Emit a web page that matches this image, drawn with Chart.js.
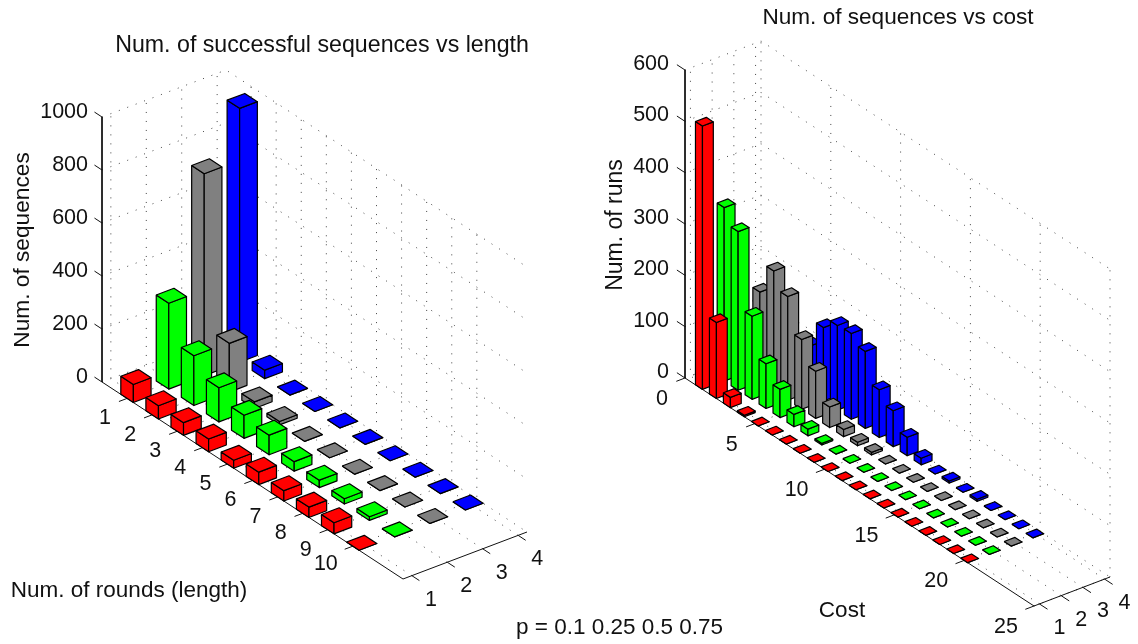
<!DOCTYPE html>
<html>
<head>
<meta charset="utf-8">
<title>Sequences</title>
<script src="https://cdn.jsdelivr.net/npm/chart.js@4"></script>
<style>
    html, body { margin: 0; padding: 0; background: #fff; }
    body { width: 1138px; height: 644px; position: relative; overflow: hidden; }
    canvas { position: absolute; top: 0; }
    #left-chart { left: 0; }
    #right-chart { left: 569px; }
    #note { position: absolute; left: 516px; top: 614px; font: 22.5px "Liberation Sans", Arial, sans-serif; white-space: nowrap; color: #111; }
</style>
</head>
<body>
<canvas id="left-chart" width="569" height="644"></canvas>
<canvas id="right-chart" width="569" height="644"></canvas>
<div id="note">p = 0.1 0.25 0.5 0.75</div>
<script>
// values
const seriesTicks = [1, 2, 3, 4];

const lengthCategories = [1, 2, 3, 4, 5, 6, 7, 8, 9, 10];
const lengthTicksZ = [0, 200, 400, 600, 800, 1000];
const lengthRed = [68, 50, 48, 48, 30, 47, 39, 39, 42, 0];
const lengthGreen = [324, 188, 129, 87, 74, 36, 28, 20, 14, 0];
const lengthGray = [762, 184, 25, 13, 0, 0, 0, 0, 0, 0];
const lengthBlue = [958, 32, 0, 0, 0, 0, 0, 0, 0, 0];

const costCategories = [1, 2, 3, 4, 5, 6, 7, 8, 9, 10, 11, 12, 13, 14, 15, 16, 17, 18, 19, 20];
const costTicksX = [0, 5, 10, 15, 20, 25];
const costTicksZ = [0, 100, 200, 300, 400, 500, 600];
const costRed = [513, 148, 20, 3, 0, 0, 0, 0, 0, 0, 0, 0, 0, 0, 0, 0, 0, 0, 0, 0];
const costGreen = [338, 309, 162, 87, 55, 24, 13, 3, 0, 0, 0, 0, 0, 0, 0, 0, 0, 0, 0, 0];
const costGray = [40, 175, 234, 202, 136, 92, 40, 14, 7, 5, 0, 0, 0, 0, 0, 0, 0, 0, 0, 0];
const costBlue = [0, 0, 20, 89, 143, 165, 167, 150, 93, 70, 36, 13, 0, 4, 0, 4, 0, 0, 0, 0];

const barColors = ['#ff0000', '#00ff00', '#808080', '#0000ff'];
const FONT = '"Liberation Sans", Arial, sans-serif';

function makePanel(cfg) {
    // oblique projection of (category, series, value) onto the page
    const cSpan = cfg.cMax - cfg.cMin;
    const sSpan = cfg.sMax - cfg.sMin;
    const dc = { x: (cfg.front.x - cfg.origin.x) / cSpan, y: (cfg.front.y - cfg.origin.y) / cSpan };
    const ds = { x: (cfg.right.x - cfg.front.x) / sSpan, y: (cfg.right.y - cfg.front.y) / sSpan };
    const dz = (cfg.origin.y - cfg.top) / cfg.zMax;
    cfg.project = (c, s, v) => ({
        x: cfg.origin.x + (c - cfg.cMin) * dc.x + (s - cfg.sMin) * ds.x,
        y: cfg.origin.y + (c - cfg.cMin) * dc.y + (s - cfg.sMin) * ds.y - v * dz
    });
    return cfg;
}

function lineSet(points, color, width, dash) {
    return {
        data: points, showLine: true, fill: false, tension: 0, pointRadius: 0,
        borderColor: color, borderWidth: width, borderDash: dash || []
    };
}

function faceSet(points, color) {
    return {
        data: points.concat([points[0]]), showLine: true, tension: 0, pointRadius: 0,
        fill: 'shape', backgroundColor: color, borderColor: '#000', borderWidth: 1.2,
        borderJoinStyle: 'round'
    };
}

function gridSets(p) {
    const sets = [];
    const P = p.project;
    const dash = [1, 8];
    const grey = '#444';
    p.zTicks.forEach(z => {
        sets.push(lineSet([P(p.cMin, p.sMin, z), P(p.cMin, p.sMax, z), P(p.cMax, p.sMax, z)], grey, 1, dash));
    });
    p.sTicks.forEach(s => {
        sets.push(lineSet([P(p.cMax, s, 0), P(p.cMin, s, 0), P(p.cMin, s, p.zMax)], grey, 1, dash));
    });
    p.cTicks.forEach(c => {
        sets.push(lineSet([P(c, p.sMin, 0), P(c, p.sMax, 0), P(c, p.sMax, p.zMax)], grey, 1, dash));
    });
    return sets;
}

function axisSets(p) {
    const sets = [];
    const P = p.project;
    const black = '#111';
    sets.push(lineSet([P(p.cMin, p.sMin, p.zMax), P(p.cMin, p.sMin, 0), P(p.cMax, p.sMin, 0), P(p.cMax, p.sMax, 0)], black, 1));
    p.zTicks.forEach(z => {
        sets.push(lineSet([P(p.cMin, p.sMin, z), P(p.cMin - p.tickC, p.sMin, z)], black, 1));
    });
    p.cTicks.forEach(c => {
        sets.push(lineSet([P(c, p.sMin, 0), P(c, p.sMin - p.tickS, 0)], black, 1));
    });
    p.sTicks.forEach(s => {
        sets.push(lineSet([P(p.cMax, s, 0), P(p.cMax + p.tickC, s, 0)], black, 1));
    });
    return sets;
}

function barSets(p) {
    const sets = [];
    const P = p.project;
    const hw = 0.25;
    // far series first, near categories last, so nearer bars cover farther ones
    for (let k = p.series.length - 1; k >= 0; k--) {
        const s = p.sTicks[k];
        p.categories.forEach((c, i) => {
            const v = p.series[k][i];
            const c0 = c - hw, c1 = c + hw, s0 = s - hw, s1 = s + hw;
            sets.push(faceSet([P(c0, s0, 0), P(c1, s0, 0), P(c1, s0, v), P(c0, s0, v)], barColors[k]));
            sets.push(faceSet([P(c1, s0, 0), P(c1, s1, 0), P(c1, s1, v), P(c1, s0, v)], barColors[k]));
            sets.push(faceSet([P(c0, s0, v), P(c1, s0, v), P(c1, s1, v), P(c0, s1, v)], barColors[k]));
        });
    }
    return sets;
}

const panelText = {
    id: 'panelText',
    afterDraw(chart, args, opts) {
        const p = opts.panel;
        const ctx = chart.ctx;
        const xs = chart.scales.x, ys = chart.scales.y;
        const put = (text, pos, size, align, angle) => {
            ctx.save();
            ctx.translate(xs.getPixelForValue(pos.x), ys.getPixelForValue(pos.y));
            if (angle) ctx.rotate(angle);
            ctx.font = size + 'px ' + FONT;
            ctx.fillStyle = '#111';
            ctx.textAlign = align;
            ctx.textBaseline = 'middle';
            ctx.fillText(text, 0, 0);
            ctx.restore();
        };
        const P = p.project;
        p.zTicks.forEach(z => {
            const a = P(p.cMin, p.sMin, z);
            put(String(z), { x: a.x + p.zLabel.x, y: a.y + p.zLabel.y }, 21.5, 'right');
        });
        p.cTicks.forEach(c => {
            const a = P(c, p.sMin, 0);
            const off = c >= 10 ? p.cLabelWide : p.cLabel;
            put(String(c), { x: a.x + off.x, y: a.y + off.y }, 21.5, 'center');
        });
        p.sTicks.forEach(s => {
            const a = P(p.cMax, s, 0);
            put(String(s), { x: a.x + p.sLabel.x, y: a.y + p.sLabel.y }, 21.5, 'center');
        });
        p.texts.forEach(t => put(t.text, t, t.size, 'center', t.angle || 0));
    }
};

function drawPanel(id, p, xMin, xMax) {
    const datasets = gridSets(p).concat(axisSets(p), barSets(p)).reverse();
    new Chart(document.getElementById(id), {
        type: 'scatter',
        data: { datasets },
        plugins: [panelText],
        options: {
            responsive: false,
            animation: false,
            events: [],
            layout: { padding: 0 },
            scales: {
                x: { type: 'linear', display: false, min: xMin, max: xMax },
                y: { type: 'linear', display: false, min: 0, max: 644, reverse: true }
            },
            plugins: {
                legend: { display: false },
                tooltip: { enabled: false },
                filler: { drawTime: 'beforeDatasetDraw', propagate: false },
                panelText: { panel: p }
            }
        }
    });
}

const leftPanel = makePanel({
    origin: { x: 102, y: 382 }, front: { x: 403, y: 579 }, right: { x: 527, y: 532 }, top: 117,
    cMin: 0, cMax: 12, sMin: 0.75, sMax: 4.25, zMax: 1000,
    categories: lengthCategories, cTicks: lengthCategories, sTicks: seriesTicks, zTicks: lengthTicksZ,
    series: [lengthRed, lengthGreen, lengthGray, lengthBlue],
    tickC: 0.3, tickS: 0.23,
    zLabel: { x: -14, y: -5 }, cLabel: { x: -22, y: 20 }, cLabelWide: { x: -27, y: 18 }, sLabel: { x: 19, y: 24 },
    texts: [
        { text: 'Num. of successful sequences vs length', x: 322, y: 46, size: 23.2 },
        { text: 'Num. of sequences', x: 23, y: 250, angle: -Math.PI / 2, size: 22.7 },
        { text: 'Num. of rounds (length)', x: 129, y: 591, size: 22.5 }
    ]
});

const rightPanel = makePanel({
    origin: { x: 685, y: 378 }, front: { x: 1034, y: 606 }, right: { x: 1110, y: 577 }, top: 70,
    cMin: 0, cMax: 25, sMin: 0.75, sMax: 4.25, zMax: 600,
    categories: costCategories, cTicks: costTicksX, sTicks: seriesTicks, zTicks: costTicksZ,
    series: [costRed, costGreen, costGray, costBlue],
    tickC: 0.58, tickS: 0.4,
    zLabel: { x: -16, y: -6 }, cLabel: { x: -23, y: 21 }, cLabelWide: { x: -28, y: 21 }, sLabel: { x: 20, y: 24 },
    texts: [
        { text: 'Num. of sequences vs cost', x: 898, y: 18, size: 22.6 },
        { text: 'Num. of runs', x: 616, y: 225, angle: -Math.PI / 2, size: 23 },
        { text: 'Cost', x: 842, y: 611, size: 22.5 }
    ]
});

drawPanel('left-chart', leftPanel, 0, 569);
drawPanel('right-chart', rightPanel, 569, 1138);
</script>
</body>
</html>
